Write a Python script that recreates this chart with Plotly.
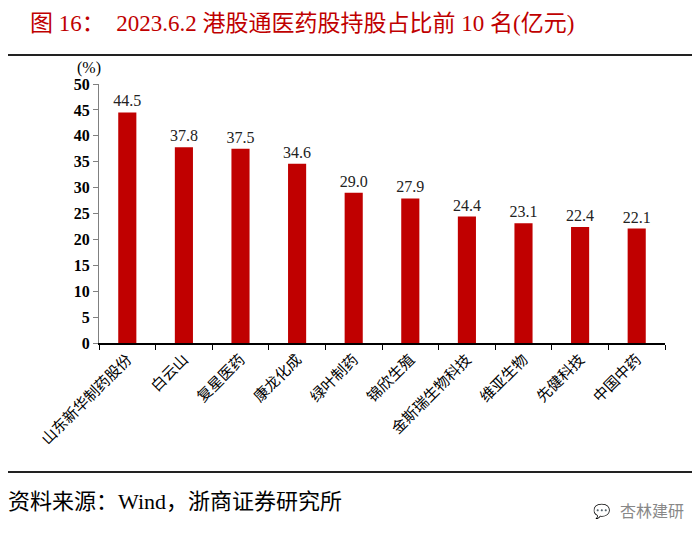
import plotly.graph_objects as go

categories = ["山东新华制药股份", "白云山", "复星医药", "康龙化成", "绿叶制药",
              "锦欣生殖", "金斯瑞生物科技", "维亚生物", "先健科技", "中国中药"]
values = [44.5, 37.8, 37.5, 34.6, 29.0, 27.9, 24.4, 23.1, 22.4, 22.1]
y_ticks = [0, 5, 10, 15, 20, 25, 30, 35, 40, 45, 50]

OFF = 8  # page body margin
W, H = 700 - OFF, 539 - OFF
L, R, T, B = 99 - OFF, 35, 84 - OFF, 196
pw, ph = W - L - R, H - T - B

def px2x(px):
    return (px - OFF - L) / pw

def px2y(py):
    return (H - B - (py - OFF)) / ph

fig = go.Figure()
fig.add_trace(go.Bar(
    x=categories, y=values,
    marker=dict(color="#C00000", line=dict(width=0)),
    text=[f"{v:.1f}" for v in values],
    textposition="outside",
    constraintext="none",
    textfont=dict(family="Liberation Serif", size=16, color="#222"),
    cliponaxis=False,
    width=0.32,
))

fig.update_layout(
    width=W, height=H,
    margin=dict(l=L, r=R, t=T, b=B),
    paper_bgcolor="white", plot_bgcolor="white",
    showlegend=False,
    xaxis=dict(
        type="category",
        showline=True, linecolor="black", linewidth=1.5,
        ticks="outside", tickson="boundaries", ticklen=5, tickcolor="black",
        tickangle=-45,
        tickfont=dict(family="Noto Sans CJK SC", size=15, color="black"),
        showgrid=False,
    ),
    yaxis=dict(
        range=[0, 50], tickvals=y_ticks,
        showline=True, linecolor="#808080", linewidth=1,
        ticks="outside", ticklen=5, tickcolor="#808080",
        tickfont=dict(family="Liberation Serif", size=16, color="black", weight="bold"),
        showgrid=False, zeroline=False,
    ),
    shapes=[
        dict(type="line", xref="paper", yref="paper",
             x0=px2x(6), x1=px2x(697), y0=px2y(55), y1=px2y(55),
             line=dict(color="#222", width=2)),
        dict(type="line", xref="paper", yref="paper",
             x0=px2x(6), x1=px2x(697), y0=px2y(472), y1=px2y(472),
             line=dict(color="#222", width=2)),
    ],
    annotations=[
        dict(xref="paper", yref="paper", x=px2x(28), y=px2y(9),
             xanchor="left", yanchor="top", showarrow=False,
             text="图 16：  2023.6.2 港股通医药股持股占比前 10 名(亿元)",
             font=dict(family="Liberation Serif, Noto Sans CJK SC", size=23, color="#C00000")),
        dict(xref="paper", yref="paper", x=px2x(103), y=px2y(68),
             xanchor="right", yanchor="middle", showarrow=False,
             text="(%)", font=dict(family="Liberation Serif", size=16, color="black")),
        dict(xref="paper", yref="paper", x=px2x(6), y=px2y(502),
             xanchor="left", yanchor="middle", showarrow=False,
             text="资料来源：Wind，浙商证券研究所",
             font=dict(family="Liberation Serif, Noto Sans CJK SC", size=22, color="black")),
        dict(xref="paper", yref="paper", x=px2x(686), y=px2y(510),
             xanchor="right", yanchor="middle", showarrow=False,
             text="杏林建研",
             font=dict(family="Noto Sans CJK SC", size=16, color="#888")),
        dict(xref="paper", yref="paper", x=px2x(613), y=px2y(510),
             xanchor="right", yanchor="middle", showarrow=False,
             text="💬",
             font=dict(family="Noto Sans CJK SC", size=14, color="#aaa")),
    ],
)

fig.write_html("out.html")
